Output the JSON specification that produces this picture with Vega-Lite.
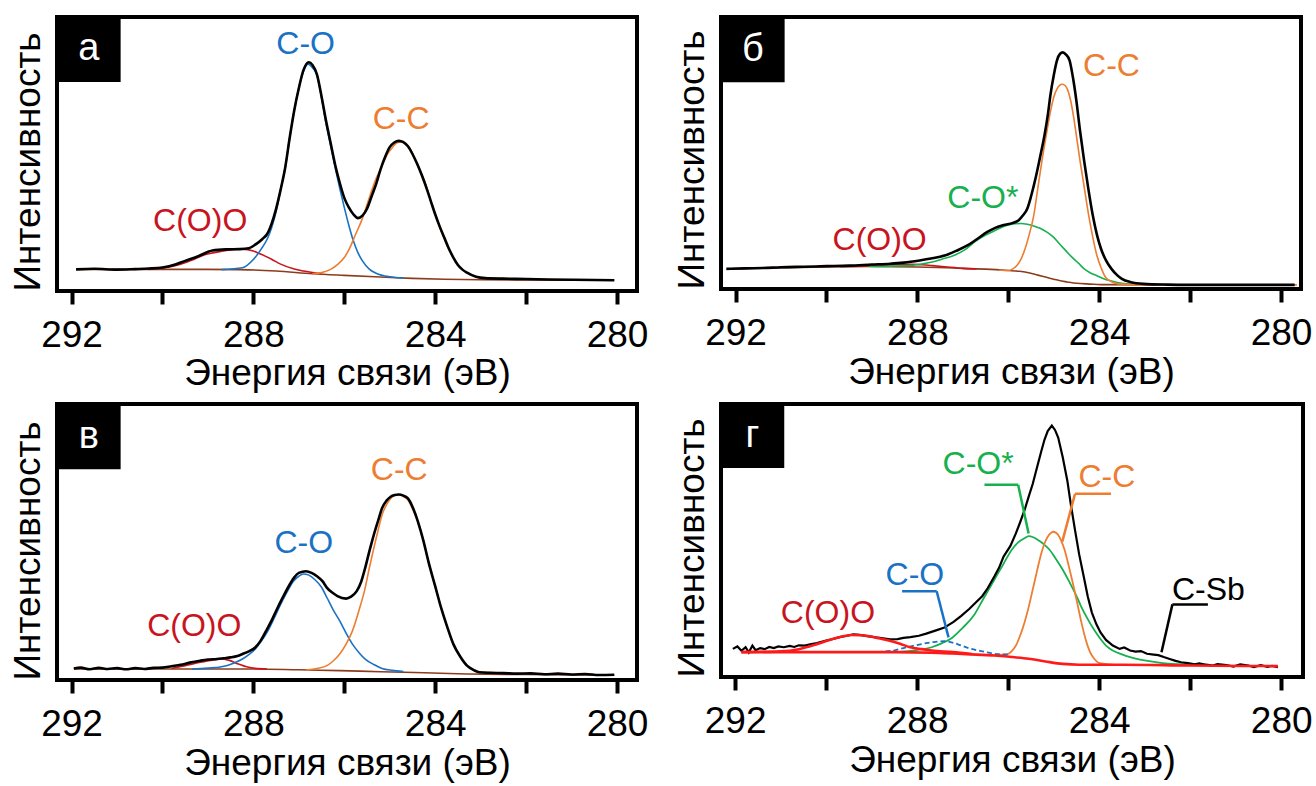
{
"$schema": "https://vega.github.io/schema/vega-lite/v6.json",
"background": "white",
"padding": {"left": 7, "top": 15, "right": 5, "bottom": 0},
"config": {
  "view": {"stroke": "black", "strokeWidth": 4},
  "font": "Liberation Sans",
  "axis": {"grid": false, "labelFont": "Liberation Sans", "titleFont": "Liberation Sans", "titleFontWeight": "normal", "titleColor": "black", "labelColor": "black"}
},
"datasets": {
"a": [
{"s":"exp","E":291.9,"I":7.9},{"s":"exp","E":291.5,"I":8.1},{"s":"exp","E":291.0,"I":7.8},{"s":"exp","E":290.6,"I":8.0},{"s":"exp","E":290.3,"I":8.2},{"s":"exp","E":290.0,"I":8.6},{"s":"exp","E":289.7,"I":9.8},{"s":"exp","E":289.5,"I":11.0},{"s":"exp","E":289.2,"I":12.8},{"s":"exp","E":288.9,"I":14.8},{"s":"exp","E":288.6,"I":15.2},{"s":"exp","E":288.3,"I":15.3},{"s":"exp","E":288.1,"I":15.6},{"s":"exp","E":287.95,"I":17.0},{"s":"exp","E":287.8,"I":19.0},{"s":"exp","E":287.7,"I":20.7},{"s":"exp","E":287.6,"I":24.5},{"s":"exp","E":287.5,"I":30.0},{"s":"exp","E":287.4,"I":37.0},{"s":"exp","E":287.3,"I":45.0},{"s":"exp","E":287.2,"I":56.0},{"s":"exp","E":287.1,"I":66.0},{"s":"exp","E":287.0,"I":74.0},{"s":"exp","E":286.9,"I":80.5},{"s":"exp","E":286.78,"I":83.5},{"s":"exp","E":286.7,"I":82.5},{"s":"exp","E":286.6,"I":79.0},{"s":"exp","E":286.5,"I":71.0},{"s":"exp","E":286.4,"I":62.0},{"s":"exp","E":286.3,"I":54.0},{"s":"exp","E":286.2,"I":46.0},{"s":"exp","E":286.1,"I":39.5},{"s":"exp","E":286.0,"I":34.0},{"s":"exp","E":285.9,"I":30.5},{"s":"exp","E":285.8,"I":28.0},{"s":"exp","E":285.7,"I":26.6},{"s":"exp","E":285.6,"I":27.5},{"s":"exp","E":285.5,"I":30.0},{"s":"exp","E":285.4,"I":34.5},{"s":"exp","E":285.3,"I":39.0},{"s":"exp","E":285.2,"I":44.5},{"s":"exp","E":285.1,"I":49.0},{"s":"exp","E":285.0,"I":52.5},{"s":"exp","E":284.9,"I":54.2},{"s":"exp","E":284.8,"I":54.8},{"s":"exp","E":284.7,"I":54.3},{"s":"exp","E":284.6,"I":52.8},{"s":"exp","E":284.5,"I":50.0},{"s":"exp","E":284.4,"I":46.5},{"s":"exp","E":284.3,"I":42.5},{"s":"exp","E":284.2,"I":38.0},{"s":"exp","E":284.1,"I":33.0},{"s":"exp","E":284.0,"I":28.0},{"s":"exp","E":283.9,"I":23.5},{"s":"exp","E":283.8,"I":19.5},{"s":"exp","E":283.7,"I":15.5},{"s":"exp","E":283.6,"I":12.2},{"s":"exp","E":283.5,"I":9.5},{"s":"exp","E":283.4,"I":7.8},{"s":"exp","E":283.3,"I":6.7},{"s":"exp","E":283.1,"I":5.2},{"s":"exp","E":282.9,"I":4.7},{"s":"exp","E":282.5,"I":4.5},{"s":"exp","E":282.0,"I":4.4},{"s":"exp","E":281.5,"I":4.2},{"s":"exp","E":281.0,"I":4.1},{"s":"exp","E":280.5,"I":4.0},{"s":"exp","E":280.06,"I":3.9},
{"s":"base","E":291.9,"I":7.9},{"s":"base","E":289.5,"I":7.9},{"s":"base","E":288.3,"I":7.8},{"s":"base","E":287.5,"I":7.3},{"s":"base","E":286.7,"I":6.3},{"s":"base","E":286.0,"I":5.7},{"s":"base","E":285.2,"I":5.1},{"s":"base","E":284.5,"I":4.6},{"s":"base","E":283.8,"I":4.3},{"s":"base","E":283.0,"I":4.1},{"s":"base","E":280.06,"I":3.9},
{"s":"coo","E":290.3,"I":7.9},{"s":"coo","E":290.0,"I":8.3},{"s":"coo","E":289.6,"I":9.8},{"s":"coo","E":289.3,"I":11.6},{"s":"coo","E":289.07,"I":13.2},{"s":"coo","E":288.8,"I":14.2},{"s":"coo","E":288.6,"I":14.8},{"s":"coo","E":288.4,"I":15.2},{"s":"coo","E":288.24,"I":15.3},{"s":"coo","E":288.0,"I":14.6},{"s":"coo","E":287.86,"I":13.6},{"s":"coo","E":287.6,"I":11.6},{"s":"coo","E":287.4,"I":9.8},{"s":"coo","E":287.1,"I":8.0},{"s":"coo","E":286.9,"I":7.3},{"s":"coo","E":286.5,"I":6.3},
{"s":"co","E":288.7,"I":7.8},{"s":"co","E":288.24,"I":8.5},{"s":"co","E":288.0,"I":11.5},{"s":"co","E":287.8,"I":16.0},{"s":"co","E":287.7,"I":18.8},{"s":"co","E":287.6,"I":23.0},{"s":"co","E":287.5,"I":29.0},{"s":"co","E":287.4,"I":37.0},{"s":"co","E":287.3,"I":45.0},{"s":"co","E":287.2,"I":56.0},{"s":"co","E":287.1,"I":66.0},{"s":"co","E":287.0,"I":74.0},{"s":"co","E":286.9,"I":80.0},{"s":"co","E":286.8,"I":82.8},{"s":"co","E":286.7,"I":81.5},{"s":"co","E":286.6,"I":78.7},{"s":"co","E":286.5,"I":70.5},{"s":"co","E":286.4,"I":61.0},{"s":"co","E":286.3,"I":53.0},{"s":"co","E":286.2,"I":45.0},{"s":"co","E":286.1,"I":37.5},{"s":"co","E":286.0,"I":30.5},{"s":"co","E":285.9,"I":24.0},{"s":"co","E":285.8,"I":18.3},{"s":"co","E":285.7,"I":14.0},{"s":"co","E":285.6,"I":11.0},{"s":"co","E":285.45,"I":8.0},{"s":"co","E":285.3,"I":6.5},{"s":"co","E":285.0,"I":5.2},{"s":"co","E":284.7,"I":4.8},
{"s":"cc","E":286.7,"I":6.3},{"s":"cc","E":286.5,"I":6.7},{"s":"cc","E":286.3,"I":7.9},{"s":"cc","E":286.15,"I":9.6},{"s":"cc","E":286.0,"I":12.2},{"s":"cc","E":285.9,"I":15.0},{"s":"cc","E":285.75,"I":20.7},{"s":"cc","E":285.6,"I":26.5},{"s":"cc","E":285.47,"I":33.0},{"s":"cc","E":285.3,"I":41.0},{"s":"cc","E":285.17,"I":45.7},{"s":"cc","E":285.05,"I":50.0},{"s":"cc","E":284.94,"I":52.4},{"s":"cc","E":284.85,"I":54.0},{"s":"cc","E":284.75,"I":54.4},{"s":"cc","E":284.65,"I":53.8},{"s":"cc","E":284.57,"I":52.4},{"s":"cc","E":284.45,"I":48.5},{"s":"cc","E":284.33,"I":44.0},{"s":"cc","E":284.2,"I":38.5},{"s":"cc","E":284.1,"I":33.0},{"s":"cc","E":284.0,"I":28.0},{"s":"cc","E":283.87,"I":22.0},{"s":"cc","E":283.75,"I":17.0},{"s":"cc","E":283.6,"I":12.2},{"s":"cc","E":283.45,"I":8.5},{"s":"cc","E":283.3,"I":6.7},{"s":"cc","E":283.03,"I":4.9},{"s":"cc","E":282.5,"I":4.5}
],
"aL": [{"s":"co","t":"C-O","E":286.85,"I":90.2},{"s":"cc","t":"C-C","E":284.75,"I":62.8},{"s":"coo","t":"C(O)O","E":289.17,"I":25.6}],
"b": [
{"s":"exp","E":292.2,"I":7.4},{"s":"exp","E":291.8,"I":7.6},{"s":"exp","E":291.4,"I":7.7},{"s":"exp","E":291.0,"I":8.0},{"s":"exp","E":290.5,"I":8.2},{"s":"exp","E":290.0,"I":8.4},{"s":"exp","E":289.5,"I":8.6},{"s":"exp","E":289.0,"I":9.0},{"s":"exp","E":288.6,"I":9.3},{"s":"exp","E":288.3,"I":9.7},{"s":"exp","E":287.95,"I":10.5},{"s":"exp","E":287.7,"I":11.2},{"s":"exp","E":287.4,"I":12.3},{"s":"exp","E":287.15,"I":14.0},{"s":"exp","E":286.9,"I":16.0},{"s":"exp","E":286.7,"I":18.2},{"s":"exp","E":286.46,"I":21.0},{"s":"exp","E":286.3,"I":22.4},{"s":"exp","E":286.1,"I":23.5},{"s":"exp","E":285.9,"I":24.3},{"s":"exp","E":285.77,"I":25.3},{"s":"exp","E":285.68,"I":27.0},{"s":"exp","E":285.58,"I":29.6},{"s":"exp","E":285.5,"I":34.0},{"s":"exp","E":285.4,"I":40.7},{"s":"exp","E":285.3,"I":48.5},{"s":"exp","E":285.2,"I":56.8},{"s":"exp","E":285.13,"I":64.0},{"s":"exp","E":285.07,"I":71.6},{"s":"exp","E":285.0,"I":78.5},{"s":"exp","E":284.93,"I":84.0},{"s":"exp","E":284.86,"I":86.5},{"s":"exp","E":284.8,"I":87.0},{"s":"exp","E":284.73,"I":86.2},{"s":"exp","E":284.65,"I":84.0},{"s":"exp","E":284.58,"I":78.0},{"s":"exp","E":284.5,"I":69.0},{"s":"exp","E":284.42,"I":58.0},{"s":"exp","E":284.33,"I":47.0},{"s":"exp","E":284.24,"I":37.0},{"s":"exp","E":284.14,"I":27.0},{"s":"exp","E":284.05,"I":20.0},{"s":"exp","E":283.96,"I":14.8},{"s":"exp","E":283.85,"I":10.5},{"s":"exp","E":283.73,"I":7.4},{"s":"exp","E":283.6,"I":5.0},{"s":"exp","E":283.5,"I":3.7},{"s":"exp","E":283.3,"I":2.5},{"s":"exp","E":283.03,"I":1.9},{"s":"exp","E":282.5,"I":1.6},{"s":"exp","E":282.1,"I":1.5},{"s":"exp","E":281.0,"I":1.5},{"s":"exp","E":280.0,"I":1.5},{"s":"exp","E":279.7,"I":1.5},
{"s":"base","E":292.2,"I":7.4},{"s":"base","E":290.0,"I":8.1},{"s":"base","E":289.06,"I":8.3},{"s":"base","E":288.0,"I":8.1},{"s":"base","E":287.2,"I":7.7},{"s":"base","E":286.5,"I":7.3},{"s":"base","E":286.0,"I":6.8},{"s":"base","E":285.75,"I":6.5},{"s":"base","E":285.53,"I":5.9},{"s":"base","E":285.35,"I":5.1},{"s":"base","E":285.16,"I":4.3},{"s":"base","E":285.0,"I":3.6},{"s":"base","E":284.88,"I":3.1},{"s":"base","E":284.7,"I":2.6},{"s":"base","E":284.5,"I":2.1},{"s":"base","E":284.2,"I":1.8},{"s":"base","E":283.96,"I":1.6},{"s":"base","E":282.0,"I":1.5},{"s":"base","E":279.7,"I":1.5},
{"s":"coo","E":289.7,"I":8.3},{"s":"coo","E":289.2,"I":8.5},{"s":"coo","E":288.9,"I":8.7},{"s":"coo","E":288.6,"I":8.9},{"s":"coo","E":288.3,"I":9.1},{"s":"coo","E":288.13,"I":9.1},{"s":"coo","E":287.9,"I":8.9},{"s":"coo","E":287.67,"I":8.6},{"s":"coo","E":287.4,"I":8.2},{"s":"coo","E":287.0,"I":7.6},{"s":"coo","E":286.7,"I":7.4},
{"s":"cos","E":289.06,"I":8.3},{"s":"cos","E":288.6,"I":8.4},{"s":"cos","E":288.13,"I":8.7},{"s":"cos","E":287.9,"I":9.2},{"s":"cos","E":287.67,"I":9.9},{"s":"cos","E":287.45,"I":11.0},{"s":"cos","E":287.2,"I":12.3},{"s":"cos","E":286.95,"I":14.5},{"s":"cos","E":286.74,"I":17.3},{"s":"cos","E":286.5,"I":19.8},{"s":"cos","E":286.28,"I":21.6},{"s":"cos","E":286.1,"I":23.0},{"s":"cos","E":286.0,"I":23.5},{"s":"cos","E":285.85,"I":24.0},{"s":"cos","E":285.72,"I":24.1},{"s":"cos","E":285.58,"I":23.8},{"s":"cos","E":285.44,"I":23.2},{"s":"cos","E":285.3,"I":22.3},{"s":"cos","E":285.16,"I":21.0},{"s":"cos","E":285.0,"I":19.0},{"s":"cos","E":284.88,"I":16.7},{"s":"cos","E":284.74,"I":14.2},{"s":"cos","E":284.6,"I":11.7},{"s":"cos","E":284.45,"I":9.4},{"s":"cos","E":284.33,"I":7.4},{"s":"cos","E":284.2,"I":6.0},{"s":"cos","E":284.05,"I":4.9},{"s":"cos","E":283.9,"I":3.8},{"s":"cos","E":283.77,"I":3.1},{"s":"cos","E":283.5,"I":2.1},{"s":"cos","E":283.03,"I":1.6},
{"s":"cc","E":286.2,"I":7.0},{"s":"cc","E":286.0,"I":6.8},{"s":"cc","E":285.9,"I":7.4},{"s":"cc","E":285.81,"I":8.6},{"s":"cc","E":285.72,"I":11.0},{"s":"cc","E":285.63,"I":14.8},{"s":"cc","E":285.54,"I":20.0},{"s":"cc","E":285.44,"I":27.0},{"s":"cc","E":285.35,"I":37.0},{"s":"cc","E":285.26,"I":47.0},{"s":"cc","E":285.16,"I":57.0},{"s":"cc","E":285.07,"I":65.4},{"s":"cc","E":285.0,"I":70.5},{"s":"cc","E":284.93,"I":73.5},{"s":"cc","E":284.87,"I":74.9},{"s":"cc","E":284.81,"I":75.3},{"s":"cc","E":284.75,"I":74.8},{"s":"cc","E":284.7,"I":73.5},{"s":"cc","E":284.63,"I":69.5},{"s":"cc","E":284.56,"I":63.0},{"s":"cc","E":284.49,"I":55.0},{"s":"cc","E":284.42,"I":47.0},{"s":"cc","E":284.33,"I":37.5},{"s":"cc","E":284.23,"I":27.0},{"s":"cc","E":284.14,"I":19.0},{"s":"cc","E":284.05,"I":12.3},{"s":"cc","E":283.95,"I":7.5},{"s":"cc","E":283.86,"I":4.3},{"s":"cc","E":283.72,"I":2.6},{"s":"cc","E":283.58,"I":1.9},{"s":"cc","E":283.0,"I":1.5},{"s":"cc","E":279.65,"I":1.5}
],
"bL": [{"s":"cc","t":"C-C","E":283.73,"I":82.1},{"s":"cos","t":"C-O*","E":286.56,"I":33.3},{"s":"coo","t":"C(O)O","E":288.83,"I":17.9}],
"c": [
{"s":"exp","E":291.95,"I":4.2},{"s":"exp","E":291.8,"I":4.5},{"s":"exp","E":291.6,"I":3.9},{"s":"exp","E":291.4,"I":4.4},{"s":"exp","E":291.2,"I":4.0},{"s":"exp","E":291.0,"I":4.3},{"s":"exp","E":290.8,"I":3.9},{"s":"exp","E":290.6,"I":4.3},{"s":"exp","E":290.4,"I":4.0},{"s":"exp","E":290.2,"I":4.4},{"s":"exp","E":290.0,"I":4.5},{"s":"exp","E":289.8,"I":5.0},{"s":"exp","E":289.6,"I":5.5},{"s":"exp","E":289.4,"I":6.3},{"s":"exp","E":289.17,"I":7.0},{"s":"exp","E":289.0,"I":7.4},{"s":"exp","E":288.8,"I":7.6},{"s":"exp","E":288.65,"I":7.9},{"s":"exp","E":288.5,"I":8.2},{"s":"exp","E":288.35,"I":8.7},{"s":"exp","E":288.24,"I":9.4},{"s":"exp","E":288.1,"I":10.4},{"s":"exp","E":287.96,"I":11.8},{"s":"exp","E":287.85,"I":14.0},{"s":"exp","E":287.72,"I":17.8},{"s":"exp","E":287.6,"I":21.5},{"s":"exp","E":287.5,"I":25.0},{"s":"exp","E":287.35,"I":30.0},{"s":"exp","E":287.2,"I":34.6},{"s":"exp","E":287.1,"I":37.2},{"s":"exp","E":287.0,"I":38.8},{"s":"exp","E":286.84,"I":39.4},{"s":"exp","E":286.72,"I":38.8},{"s":"exp","E":286.6,"I":37.6},{"s":"exp","E":286.48,"I":35.8},{"s":"exp","E":286.38,"I":33.4},{"s":"exp","E":286.25,"I":31.5},{"s":"exp","E":286.15,"I":30.4},{"s":"exp","E":285.96,"I":29.5},{"s":"exp","E":285.85,"I":30.2},{"s":"exp","E":285.73,"I":32.1},{"s":"exp","E":285.63,"I":35.5},{"s":"exp","E":285.54,"I":40.6},{"s":"exp","E":285.45,"I":46.5},{"s":"exp","E":285.35,"I":52.6},{"s":"exp","E":285.25,"I":58.0},{"s":"exp","E":285.17,"I":62.2},{"s":"exp","E":285.07,"I":65.0},{"s":"exp","E":284.98,"I":66.4},{"s":"exp","E":284.89,"I":67.0},{"s":"exp","E":284.8,"I":67.2},{"s":"exp","E":284.7,"I":66.8},{"s":"exp","E":284.6,"I":65.8},{"s":"exp","E":284.5,"I":62.8},{"s":"exp","E":284.38,"I":57.4},{"s":"exp","E":284.26,"I":50.5},{"s":"exp","E":284.15,"I":43.0},{"s":"exp","E":284.0,"I":34.0},{"s":"exp","E":283.87,"I":26.2},{"s":"exp","E":283.73,"I":19.0},{"s":"exp","E":283.6,"I":13.0},{"s":"exp","E":283.45,"I":8.5},{"s":"exp","E":283.3,"I":5.2},{"s":"exp","E":283.15,"I":3.6},{"s":"exp","E":283.03,"I":2.8},{"s":"exp","E":282.8,"I":2.6},{"s":"exp","E":282.5,"I":2.5},{"s":"exp","E":282.2,"I":2.3},{"s":"exp","E":281.9,"I":2.4},{"s":"exp","E":281.6,"I":2.1},{"s":"exp","E":281.3,"I":2.3},{"s":"exp","E":281.0,"I":2.0},{"s":"exp","E":280.7,"I":2.2},{"s":"exp","E":280.4,"I":1.8},{"s":"exp","E":280.06,"I":1.9},
{"s":"base","E":291.95,"I":4.0},{"s":"base","E":289.0,"I":4.0},{"s":"base","E":287.96,"I":4.0},{"s":"base","E":287.0,"I":3.7},{"s":"base","E":286.1,"I":3.4},{"s":"base","E":285.2,"I":3.0},{"s":"base","E":284.24,"I":2.6},{"s":"base","E":283.3,"I":2.2},{"s":"base","E":282.0,"I":2.0},{"s":"base","E":280.06,"I":1.7},
{"s":"coo","E":289.8,"I":4.2},{"s":"coo","E":289.5,"I":5.2},{"s":"coo","E":289.17,"I":6.4},{"s":"coo","E":288.9,"I":7.2},{"s":"coo","E":288.7,"I":7.6},{"s":"coo","E":288.55,"I":7.2},{"s":"coo","E":288.33,"I":5.8},{"s":"coo","E":288.15,"I":4.8},{"s":"coo","E":287.96,"I":4.2},{"s":"coo","E":287.7,"I":4.0},
{"s":"co","E":289.35,"I":4.0},{"s":"co","E":289.0,"I":4.3},{"s":"co","E":288.7,"I":4.8},{"s":"co","E":288.45,"I":6.0},{"s":"co","E":288.24,"I":7.6},{"s":"co","E":288.1,"I":9.2},{"s":"co","E":287.96,"I":11.2},{"s":"co","E":287.82,"I":14.2},{"s":"co","E":287.68,"I":17.8},{"s":"co","E":287.54,"I":22.5},{"s":"co","E":287.4,"I":27.4},{"s":"co","E":287.26,"I":31.8},{"s":"co","E":287.12,"I":35.8},{"s":"co","E":287.0,"I":37.6},{"s":"co","E":286.9,"I":38.4},{"s":"co","E":286.78,"I":38.0},{"s":"co","E":286.65,"I":36.4},{"s":"co","E":286.5,"I":33.6},{"s":"co","E":286.38,"I":29.8},{"s":"co","E":286.25,"I":25.6},{"s":"co","E":286.1,"I":21.4},{"s":"co","E":285.96,"I":17.0},{"s":"co","E":285.82,"I":13.0},{"s":"co","E":285.68,"I":10.0},{"s":"co","E":285.54,"I":7.6},{"s":"co","E":285.35,"I":5.6},{"s":"co","E":285.17,"I":4.2},{"s":"co","E":284.95,"I":3.5},{"s":"co","E":284.7,"I":3.1},
{"s":"cc","E":286.84,"I":3.6},{"s":"cc","E":286.6,"I":4.2},{"s":"cc","E":286.38,"I":5.2},{"s":"cc","E":286.25,"I":6.8},{"s":"cc","E":286.1,"I":9.4},{"s":"cc","E":285.96,"I":13.0},{"s":"cc","E":285.82,"I":17.8},{"s":"cc","E":285.68,"I":25.0},{"s":"cc","E":285.54,"I":33.4},{"s":"cc","E":285.45,"I":40.5},{"s":"cc","E":285.35,"I":47.8},{"s":"cc","E":285.26,"I":54.0},{"s":"cc","E":285.17,"I":59.8},{"s":"cc","E":285.07,"I":63.5},{"s":"cc","E":284.98,"I":65.8},{"s":"cc","E":284.89,"I":66.9},{"s":"cc","E":284.8,"I":67.2},{"s":"cc","E":284.7,"I":66.5},{"s":"cc","E":284.6,"I":65.3},{"s":"cc","E":284.5,"I":62.0},{"s":"cc","E":284.38,"I":57.4},{"s":"cc","E":284.26,"I":50.5},{"s":"cc","E":284.15,"I":43.0},{"s":"cc","E":284.0,"I":34.0},{"s":"cc","E":283.87,"I":26.2},{"s":"cc","E":283.73,"I":19.0},{"s":"cc","E":283.6,"I":13.0},{"s":"cc","E":283.45,"I":8.5},{"s":"cc","E":283.3,"I":5.2},{"s":"cc","E":283.03,"I":3.0},{"s":"cc","E":282.5,"I":2.5}
],
"cL": [{"s":"cc","t":"C-C","E":284.79,"I":76.0},{"s":"co","t":"C-O","E":286.89,"I":49.6},{"s":"coo","t":"C(O)O","E":289.3,"I":19.6}],
"d": [
{"s":"exp","E":292.05,"I":10.3},{"s":"exp","E":291.95,"I":11.2},{"s":"exp","E":291.86,"I":9.6},{"s":"exp","E":291.77,"I":10.9},{"s":"exp","E":291.7,"I":9.0},{"s":"exp","E":291.62,"I":11.5},{"s":"exp","E":291.55,"I":9.8},{"s":"exp","E":291.45,"I":10.6},{"s":"exp","E":291.35,"I":10.2},{"s":"exp","E":291.25,"I":11.0},{"s":"exp","E":291.15,"I":10.6},{"s":"exp","E":291.05,"I":11.2},{"s":"exp","E":290.93,"I":10.9},{"s":"exp","E":290.8,"I":11.4},{"s":"exp","E":290.7,"I":11.0},{"s":"exp","E":290.6,"I":11.6},{"s":"exp","E":290.47,"I":11.5},{"s":"exp","E":290.35,"I":12.0},{"s":"exp","E":290.2,"I":12.4},{"s":"exp","E":290.1,"I":12.9},{"s":"exp","E":290.0,"I":13.3},{"s":"exp","E":289.85,"I":13.9},{"s":"exp","E":289.7,"I":14.6},{"s":"exp","E":289.54,"I":15.1},{"s":"exp","E":289.4,"I":15.6},{"s":"exp","E":289.26,"I":15.4},{"s":"exp","E":289.1,"I":15.0},{"s":"exp","E":288.9,"I":14.5},{"s":"exp","E":288.75,"I":14.2},{"s":"exp","E":288.6,"I":13.8},{"s":"exp","E":288.43,"I":13.9},{"s":"exp","E":288.3,"I":14.3},{"s":"exp","E":288.15,"I":14.6},{"s":"exp","E":287.96,"I":15.1},{"s":"exp","E":287.8,"I":15.9},{"s":"exp","E":287.6,"I":17.0},{"s":"exp","E":287.4,"I":18.1},{"s":"exp","E":287.2,"I":20.2},{"s":"exp","E":287.03,"I":22.4},{"s":"exp","E":286.85,"I":25.0},{"s":"exp","E":286.7,"I":27.5},{"s":"exp","E":286.57,"I":29.6},{"s":"exp","E":286.45,"I":32.5},{"s":"exp","E":286.3,"I":36.9},{"s":"exp","E":286.2,"I":40.0},{"s":"exp","E":286.1,"I":44.1},{"s":"exp","E":285.95,"I":48.0},{"s":"exp","E":285.83,"I":52.6},{"s":"exp","E":285.74,"I":56.5},{"s":"exp","E":285.64,"I":61.1},{"s":"exp","E":285.55,"I":66.0},{"s":"exp","E":285.46,"I":70.7},{"s":"exp","E":285.37,"I":76.5},{"s":"exp","E":285.27,"I":82.8},{"s":"exp","E":285.2,"I":87.0},{"s":"exp","E":285.13,"I":90.1},{"s":"exp","E":285.04,"I":92.1},{"s":"exp","E":284.97,"I":90.5},{"s":"exp","E":284.9,"I":87.7},{"s":"exp","E":284.8,"I":80.5},{"s":"exp","E":284.7,"I":72.0},{"s":"exp","E":284.62,"I":63.0},{"s":"exp","E":284.53,"I":53.8},{"s":"exp","E":284.44,"I":45.0},{"s":"exp","E":284.34,"I":36.9},{"s":"exp","E":284.25,"I":29.5},{"s":"exp","E":284.16,"I":23.6},{"s":"exp","E":284.06,"I":19.3},{"s":"exp","E":283.97,"I":16.3},{"s":"exp","E":283.85,"I":13.6},{"s":"exp","E":283.7,"I":11.5},{"s":"exp","E":283.55,"I":10.3},{"s":"exp","E":283.45,"I":10.8},{"s":"exp","E":283.32,"I":9.7},{"s":"exp","E":283.2,"I":9.3},{"s":"exp","E":283.08,"I":9.5},{"s":"exp","E":282.95,"I":8.5},{"s":"exp","E":282.8,"I":8.2},{"s":"exp","E":282.7,"I":8.0},{"s":"exp","E":282.58,"I":7.3},{"s":"exp","E":282.45,"I":6.6},{"s":"exp","E":282.32,"I":5.9},{"s":"exp","E":282.2,"I":5.4},{"s":"exp","E":282.05,"I":5.1},{"s":"exp","E":281.9,"I":4.6},{"s":"exp","E":281.8,"I":5.0},{"s":"exp","E":281.65,"I":4.5},{"s":"exp","E":281.5,"I":4.2},{"s":"exp","E":281.4,"I":4.7},{"s":"exp","E":281.2,"I":4.4},{"s":"exp","E":281.05,"I":3.8},{"s":"exp","E":280.9,"I":4.6},{"s":"exp","E":280.72,"I":4.2},{"s":"exp","E":280.6,"I":3.6},{"s":"exp","E":280.45,"I":4.3},{"s":"exp","E":280.3,"I":3.7},{"s":"exp","E":280.2,"I":4.1},{"s":"exp","E":280.07,"I":3.6},
{"s":"rb","E":291.86,"I":9.1},{"s":"rb","E":290.5,"I":9.1},{"s":"rb","E":289.5,"I":9.1},{"s":"rb","E":288.5,"I":9.1},{"s":"rb","E":287.68,"I":8.9},{"s":"rb","E":287.22,"I":8.6},{"s":"rb","E":286.7,"I":8.2},{"s":"rb","E":286.3,"I":7.9},{"s":"rb","E":285.9,"I":7.3},{"s":"rb","E":285.55,"I":6.7},{"s":"rb","E":285.18,"I":5.7},{"s":"rb","E":284.8,"I":4.8},{"s":"rb","E":284.44,"I":4.5},{"s":"rb","E":283.5,"I":4.5},{"s":"rb","E":282.0,"I":4.2},{"s":"rb","E":280.07,"I":4.0},
{"s":"rc","E":291.86,"I":9.1},{"s":"rc","E":291.0,"I":9.4},{"s":"rc","E":290.6,"I":10.2},{"s":"rc","E":290.19,"I":12.1},{"s":"rc","E":289.82,"I":14.1},{"s":"rc","E":289.6,"I":15.0},{"s":"rc","E":289.45,"I":15.4},{"s":"rc","E":289.25,"I":15.3},{"s":"rc","E":289.08,"I":15.0},{"s":"rc","E":288.85,"I":14.2},{"s":"rc","E":288.6,"I":13.3},{"s":"rc","E":288.35,"I":12.0},{"s":"rc","E":288.15,"I":10.9},{"s":"rc","E":287.9,"I":10.2},{"s":"rc","E":287.68,"I":9.7},{"s":"rc","E":287.22,"I":9.1},{"s":"rc","E":286.8,"I":8.4},
{"s":"co","E":291.86,"I":9.1},{"s":"co","E":290.5,"I":9.1},{"s":"co","E":289.5,"I":9.1},{"s":"co","E":289.08,"I":9.1},{"s":"co","E":288.52,"I":9.7},{"s":"co","E":288.3,"I":10.6},{"s":"co","E":288.06,"I":11.5},{"s":"co","E":287.8,"I":12.4},{"s":"co","E":287.6,"I":12.9},{"s":"co","E":287.4,"I":13.1},{"s":"co","E":287.2,"I":12.5},{"s":"co","E":287.03,"I":11.5},{"s":"co","E":286.85,"I":10.5},{"s":"co","E":286.66,"I":9.7},{"s":"co","E":286.45,"I":9.0},{"s":"co","E":286.3,"I":8.5},{"s":"co","E":286.0,"I":8.2},
{"s":"cos","E":288.52,"I":9.1},{"s":"cos","E":288.1,"I":9.7},{"s":"cos","E":287.68,"I":10.9},{"s":"cos","E":287.45,"I":12.4},{"s":"cos","E":287.22,"I":14.5},{"s":"cos","E":287.0,"I":18.0},{"s":"cos","E":286.76,"I":22.4},{"s":"cos","E":286.55,"I":28.5},{"s":"cos","E":286.3,"I":35.7},{"s":"cos","E":286.1,"I":41.5},{"s":"cos","E":285.92,"I":46.6},{"s":"cos","E":285.78,"I":49.3},{"s":"cos","E":285.64,"I":50.8},{"s":"cos","E":285.55,"I":51.6},{"s":"cos","E":285.45,"I":51.2},{"s":"cos","E":285.36,"I":50.4},{"s":"cos","E":285.22,"I":48.7},{"s":"cos","E":285.09,"I":46.6},{"s":"cos","E":284.95,"I":43.2},{"s":"cos","E":284.8,"I":39.3},{"s":"cos","E":284.66,"I":35.0},{"s":"cos","E":284.53,"I":30.8},{"s":"cos","E":284.4,"I":26.0},{"s":"cos","E":284.25,"I":21.2},{"s":"cos","E":284.1,"I":17.0},{"s":"cos","E":283.97,"I":13.9},{"s":"cos","E":283.85,"I":11.5},{"s":"cos","E":283.7,"I":9.7},{"s":"cos","E":283.5,"I":8.3},{"s":"cos","E":283.32,"I":7.3},{"s":"cos","E":283.1,"I":6.4},{"s":"cos","E":282.86,"I":5.7},{"s":"cos","E":282.6,"I":5.1},{"s":"cos","E":282.4,"I":4.8},{"s":"cos","E":281.65,"I":4.5},
{"s":"cc","E":286.3,"I":8.0},{"s":"cc","E":286.0,"I":8.5},{"s":"cc","E":285.92,"I":9.5},{"s":"cc","E":285.83,"I":11.5},{"s":"cc","E":285.74,"I":15.0},{"s":"cc","E":285.64,"I":20.0},{"s":"cc","E":285.55,"I":25.5},{"s":"cc","E":285.46,"I":32.0},{"s":"cc","E":285.37,"I":38.5},{"s":"cc","E":285.27,"I":45.3},{"s":"cc","E":285.2,"I":49.0},{"s":"cc","E":285.13,"I":51.4},{"s":"cc","E":285.07,"I":52.6},{"s":"cc","E":285.01,"I":53.2},{"s":"cc","E":284.95,"I":52.8},{"s":"cc","E":284.9,"I":52.0},{"s":"cc","E":284.83,"I":49.8},{"s":"cc","E":284.76,"I":46.6},{"s":"cc","E":284.67,"I":40.8},{"s":"cc","E":284.58,"I":34.5},{"s":"cc","E":284.48,"I":27.0},{"s":"cc","E":284.39,"I":20.0},{"s":"cc","E":284.3,"I":14.0},{"s":"cc","E":284.2,"I":9.1},{"s":"cc","E":284.1,"I":6.5},{"s":"cc","E":284.01,"I":5.2},{"s":"cc","E":283.7,"I":4.5}
],
"dL": [{"s":"cos","t":"C-O*","E":286.66,"I":78.0},{"s":"cc","t":"C-C","E":283.83,"I":73.2},{"s":"co","t":"C-O","E":288.05,"I":37.5},{"s":"coo","t":"C(O)O","E":289.96,"I":23.6},{"s":"exp","t":"C-Sb","E":281.6,"I":32.0}],
"dR": [
{"s":"cos","E":286.52,"I":70.4,"E2":285.78,"I2":70.4},{"s":"cos","E":285.78,"I":70.4,"E2":285.55,"I2":52.6},
{"s":"cc","E":284.53,"I":67.1,"E2":283.74,"I2":67.1},{"s":"cc","E":284.53,"I":67.1,"E2":284.81,"I2":49.6},
{"s":"co","E":288.33,"I":31.4,"E2":287.57,"I2":31.4},{"s":"co","E":287.57,"I":31.4,"E2":287.31,"I2":14.5},
{"s":"exp","E":282.39,"I":26.6,"E2":281.61,"I2":26.6},{"s":"exp","E":282.39,"I":26.6,"E2":282.63,"I2":9.1}
]
},
"columns": 2,
"spacing": {"row": 9, "column": 21},
"concat": [
{
 "width": 580, "height": 274,
 "encoding": {
  "x": {"field": "E", "type": "quantitative", "scale": {"domain": [279.56, 292.32], "reverse": true, "nice": false, "zero": false}, "axis": {"title": "Энергия связи (эВ)", "values": [292,290,288,286,284,282,280], "labelExpr": "datum.value % 4 == 0 ? datum.label : ''", "domain": false, "ticks": true, "tickSize": 13, "tickWidth": 4, "tickColor": "black", "labelFontSize": 37, "labelPadding": 13, "labelFlush": false, "labelOverlap": false, "titleFontSize": 37, "titlePadding": 2}},
  "y": {"field": "I", "type": "quantitative", "scale": {"domain": [0, 100], "nice": false, "zero": false}, "axis": {"title": "Интенсивность", "labels": false, "ticks": false, "domain": false, "titleFontSize": 37, "titlePadding": 10, "titleAnchor": "start"}}
 },
 "layer": [
  {"data": {"name": "a"}, "transform": [{"filter": "datum.s != 'exp'"}], "mark": {"type": "line", "interpolate": "monotone", "strokeWidth": 1.6}, "encoding": {"color": {"field": "s", "type": "nominal", "scale": {"domain": ["exp","base","coo","co","cc","cos"], "range": ["#000000","#8c3c1c","#c8141e","#1a72c4","#ed7d31","#17b04e"]}, "legend": null}}},
  {"data": {"name": "a"}, "transform": [{"filter": "datum.s == 'exp'"}], "mark": {"type": "line", "interpolate": "monotone", "strokeWidth": 2.6, "color": "black"}},
  {"data": {"name": "aL"}, "mark": {"type": "text", "fontSize": 32, "font": "Liberation Sans"}, "encoding": {"text": {"field": "t"}, "color": {"field": "s", "type": "nominal", "scale": {"domain": ["exp","base","coo","co","cc","cos"], "range": ["#000000","#8c3c1c","#c8141e","#1a72c4","#ed7d31","#17b04e"]}, "legend": null}}},
  {"data": {"values": [{"E": 292.32, "E2": 290.92, "I": 76.3, "I2": 100}]}, "mark": {"type": "rect", "color": "black"}, "encoding": {"x2": {"field": "E2"}, "y2": {"field": "I2"}}},
  {"data": {"values": [{"E": 291.62, "I": 88.2, "t": "а"}]}, "mark": {"type": "text", "color": "white", "fontSize": 38, "font": "Liberation Sans"}, "encoding": {"text": {"field": "t"}}}
 ]
},
{
 "width": 580, "height": 272,
 "encoding": {
  "x": {"field": "E", "type": "quantitative", "scale": {"domain": [279.56, 292.32], "reverse": true, "nice": false, "zero": false}, "axis": {"title": "Энергия связи (эВ)", "values": [292,290,288,286,284,282,280], "labelExpr": "datum.value % 4 == 0 ? datum.label : ''", "domain": false, "ticks": true, "tickSize": 13, "tickWidth": 4, "tickColor": "black", "labelFontSize": 37, "labelPadding": 13, "labelFlush": false, "labelOverlap": false, "titleFontSize": 37, "titlePadding": 3}},
  "y": {"field": "I", "type": "quantitative", "scale": {"domain": [0, 100], "nice": false, "zero": false}, "axis": {"title": "Интенсивность", "labels": false, "ticks": false, "domain": false, "titleFontSize": 37, "titlePadding": 10, "titleAnchor": "start"}}
 },
 "layer": [
  {"data": {"name": "b"}, "transform": [{"filter": "datum.s != 'exp'"}], "mark": {"type": "line", "interpolate": "monotone", "strokeWidth": 1.6}, "encoding": {"color": {"field": "s", "type": "nominal", "scale": {"domain": ["exp","base","coo","co","cc","cos"], "range": ["#000000","#8c3c1c","#c8141e","#1a72c4","#ed7d31","#17b04e"]}, "legend": null}}},
  {"data": {"name": "b"}, "transform": [{"filter": "datum.s == 'exp'"}], "mark": {"type": "line", "interpolate": "monotone", "strokeWidth": 2.6, "color": "black"}},
  {"data": {"name": "bL"}, "mark": {"type": "text", "fontSize": 32, "font": "Liberation Sans"}, "encoding": {"text": {"field": "t"}, "color": {"field": "s", "type": "nominal", "scale": {"domain": ["exp","base","coo","co","cc","cos"], "range": ["#000000","#8c3c1c","#c8141e","#1a72c4","#ed7d31","#17b04e"]}, "legend": null}}},
  {"data": {"values": [{"E": 292.32, "E2": 290.92, "I": 76.0, "I2": 100}]}, "mark": {"type": "rect", "color": "black"}, "encoding": {"x2": {"field": "E2"}, "y2": {"field": "I2"}}},
  {"data": {"values": [{"E": 291.62, "I": 88.0, "t": "б"}]}, "mark": {"type": "text", "color": "white", "fontSize": 38, "font": "Liberation Sans"}, "encoding": {"text": {"field": "t"}}}
 ]
},
{
 "width": 580, "height": 276,
 "encoding": {
  "x": {"field": "E", "type": "quantitative", "scale": {"domain": [279.56, 292.32], "reverse": true, "nice": false, "zero": false}, "axis": {"title": "Энергия связи (эВ)", "values": [292,290,288,286,284,282,280], "labelExpr": "datum.value % 4 == 0 ? datum.label : ''", "domain": false, "ticks": true, "tickSize": 13, "tickWidth": 4, "tickColor": "black", "labelFontSize": 37, "labelPadding": 13, "labelFlush": false, "labelOverlap": false, "titleFontSize": 37, "titlePadding": 3}},
  "y": {"field": "I", "type": "quantitative", "scale": {"domain": [0, 100], "nice": false, "zero": false}, "axis": {"title": "Интенсивность", "labels": false, "ticks": false, "domain": false, "titleFontSize": 37, "titlePadding": 10, "titleAnchor": "start"}}
 },
 "layer": [
  {"data": {"name": "c"}, "transform": [{"filter": "datum.s != 'exp'"}], "mark": {"type": "line", "interpolate": "monotone", "strokeWidth": 1.6}, "encoding": {"color": {"field": "s", "type": "nominal", "scale": {"domain": ["exp","base","coo","co","cc","cos"], "range": ["#000000","#8c3c1c","#c8141e","#1a72c4","#ed7d31","#17b04e"]}, "legend": null}}},
  {"data": {"name": "c"}, "transform": [{"filter": "datum.s == 'exp'"}], "mark": {"type": "line", "interpolate": "monotone", "strokeWidth": 2.6, "color": "black"}},
  {"data": {"name": "cL"}, "mark": {"type": "text", "fontSize": 32, "font": "Liberation Sans"}, "encoding": {"text": {"field": "t"}, "color": {"field": "s", "type": "nominal", "scale": {"domain": ["exp","base","coo","co","cc","cos"], "range": ["#000000","#8c3c1c","#c8141e","#1a72c4","#ed7d31","#17b04e"]}, "legend": null}}},
  {"data": {"values": [{"E": 292.32, "E2": 290.92, "I": 76.4, "I2": 100}]}, "mark": {"type": "rect", "color": "black"}, "encoding": {"x2": {"field": "E2"}, "y2": {"field": "I2"}}},
  {"data": {"values": [{"E": 291.62, "I": 88.2, "t": "в"}]}, "mark": {"type": "text", "color": "white", "fontSize": 38, "font": "Liberation Sans"}, "encoding": {"text": {"field": "t"}}}
 ]
},
{
 "width": 582, "height": 273,
 "encoding": {
  "x": {"field": "E", "type": "quantitative", "scale": {"domain": [279.52, 292.31], "reverse": true, "nice": false, "zero": false}, "axis": {"title": "Энергия связи (эВ)", "values": [292,290,288,286,284,282,280], "labelExpr": "datum.value % 4 == 0 ? datum.label : ''", "domain": false, "ticks": true, "tickSize": 13, "tickWidth": 4, "tickColor": "black", "labelFontSize": 37, "labelPadding": 13, "labelFlush": false, "labelOverlap": false, "titleFontSize": 37, "titlePadding": 3}},
  "y": {"field": "I", "type": "quantitative", "scale": {"domain": [0, 100], "nice": false, "zero": false}, "axis": {"title": "Интенсивность", "labels": false, "ticks": false, "domain": false, "titleFontSize": 37, "titlePadding": 10, "titleAnchor": "start"}}
 },
 "layer": [
  {"data": {"name": "d"}, "transform": [{"filter": "datum.s == 'cos' || datum.s == 'cc'"}], "mark": {"type": "line", "interpolate": "monotone", "strokeWidth": 1.8}, "encoding": {"color": {"field": "s", "type": "nominal", "scale": {"domain": ["exp","base","coo","co","cc","cos"], "range": ["#000000","#8c3c1c","#c8141e","#1a72c4","#ed7d31","#17b04e"]}, "legend": null}}},
  {"data": {"name": "d"}, "transform": [{"filter": "datum.s == 'co'"}], "mark": {"type": "line", "interpolate": "monotone", "strokeWidth": 1.8, "color": "#1a72c4", "strokeDash": [5, 3]}},
  {"data": {"name": "d"}, "transform": [{"filter": "datum.s == 'exp'"}], "mark": {"type": "line", "interpolate": "linear", "strokeWidth": 2.2, "color": "black"}},
  {"data": {"name": "d"}, "transform": [{"filter": "datum.s == 'rb' || datum.s == 'rc'"}], "mark": {"type": "line", "interpolate": "monotone", "strokeWidth": 2.6, "color": "#ff1a1a"}, "encoding": {"detail": {"field": "s"}}},
  {"data": {"name": "dR"}, "mark": {"type": "rule", "strokeWidth": 2.5}, "encoding": {"x2": {"field": "E2"}, "y2": {"field": "I2"}, "color": {"field": "s", "type": "nominal", "scale": {"domain": ["exp","base","coo","co","cc","cos"], "range": ["#000000","#8c3c1c","#c8141e","#1a72c4","#ed7d31","#17b04e"]}, "legend": null}}},
  {"data": {"name": "dL"}, "mark": {"type": "text", "fontSize": 32, "font": "Liberation Sans"}, "encoding": {"text": {"field": "t"}, "color": {"field": "s", "type": "nominal", "scale": {"domain": ["exp","base","coo","co","cc","cos"], "range": ["#000000","#8c3c1c","#c8141e","#1a72c4","#ed7d31","#17b04e"]}, "legend": null}}},
  {"data": {"values": [{"E": 292.31, "E2": 290.92, "I": 76.6, "I2": 100}]}, "mark": {"type": "rect", "color": "black"}, "encoding": {"x2": {"field": "E2"}, "y2": {"field": "I2"}}},
  {"data": {"values": [{"E": 291.62, "I": 88.3, "t": "г"}]}, "mark": {"type": "text", "color": "white", "fontSize": 38, "font": "Liberation Sans"}, "encoding": {"text": {"field": "t"}}}
 ]
}
]
}
